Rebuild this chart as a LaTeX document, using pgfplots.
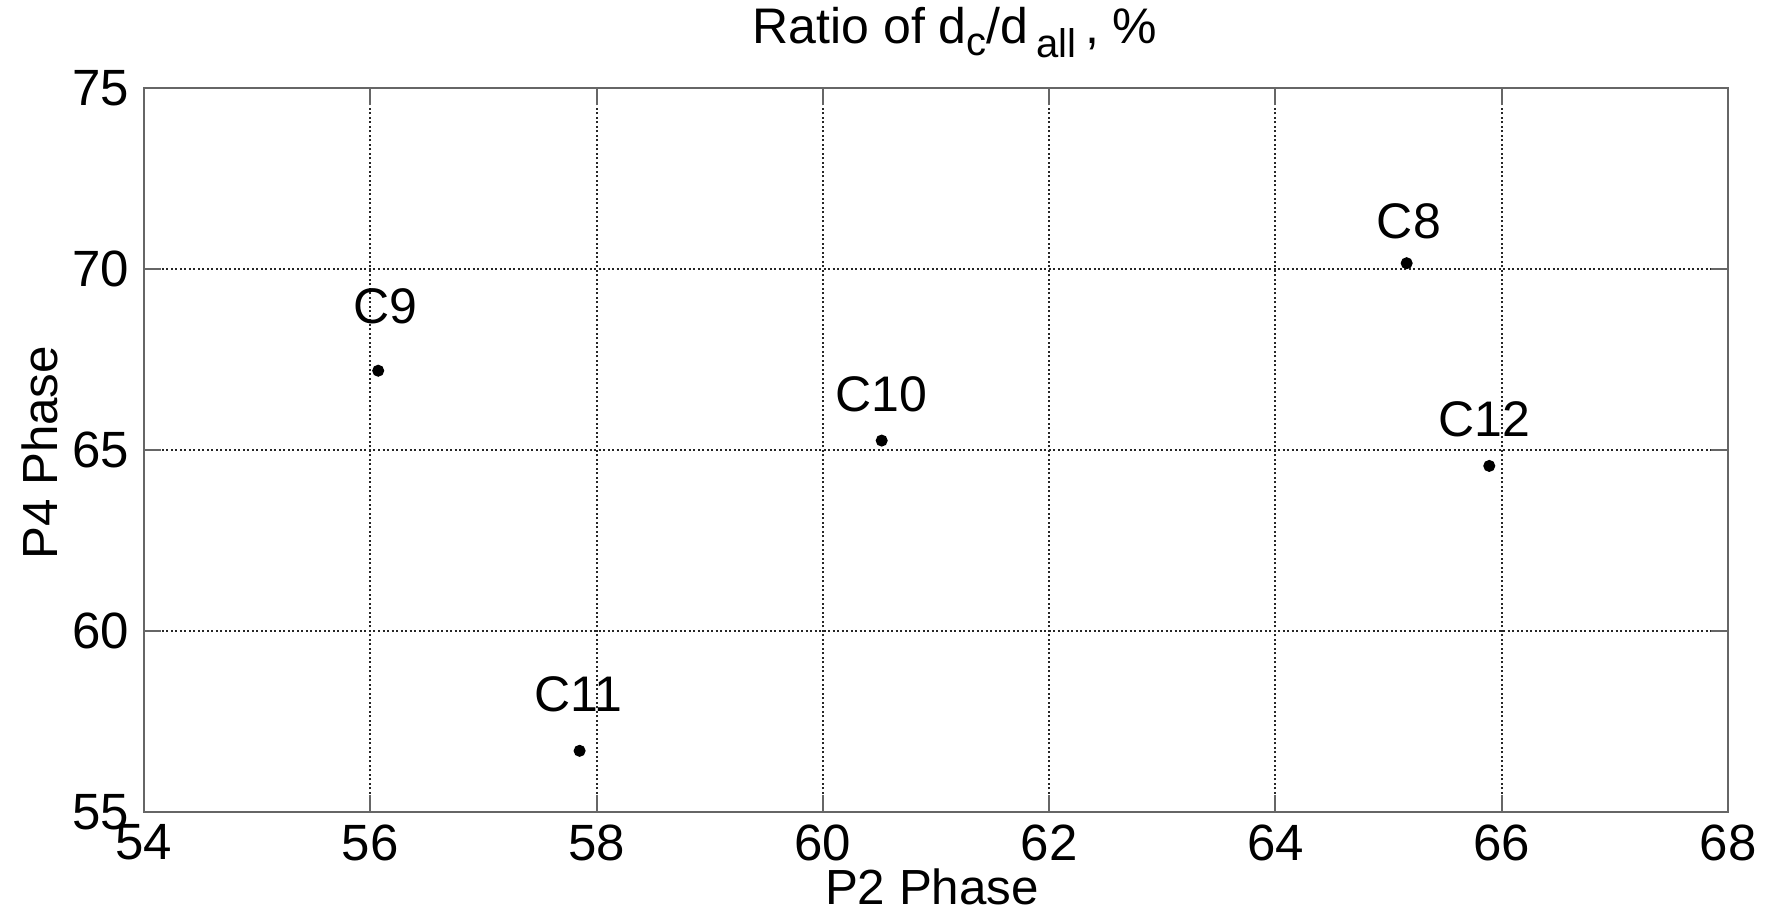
\documentclass[border=0pt]{standalone}
\usepackage{pgfplots}
\pgfplotsset{compat=1.18}
\usepackage{fontspec}
\setmainfont{Liberation Sans}
\begin{document}
\begin{tikzpicture}
\begin{axis}[
  scale only axis,
  clip=false,
  width=475.2pt, height=217.2pt,
  xmin=54, xmax=68, ymin=55, ymax=75,
  xtick={54,56,...,68}, ytick={55,60,...,75},
  /pgf/number format/assume math mode=true,
  tick label style={font=\fontsize{15.3}{18}\selectfont},
  tick align=inside,
  major tick length=5pt,
  axis line style={draw=black!60, line width=0.8pt},
  tick style={draw=black!60, line width=0.6pt},
  grid=major,
  grid style={black!85, line width=0.6pt, dash pattern=on 0.6pt off 0.75pt},
  xticklabel style={yshift=-0.3pt},
  yticklabel style={xshift=-1pt},
  xlabel={P2 Phase}, ylabel={P4 Phase},
  label style={font=\fontsize{14.8}{18}\selectfont},
  x label style={at={(axis description cs:0.4975,-0.1275)}, anchor=base},
  y label style={at={(axis description cs:-0.0543,0.496)}, anchor=base},
]
\addplot[only marks, mark=*, mark size=1.6pt, black] coordinates {
  (56.07,67.19) (65.16,70.16) (65.89,64.56) (57.85,56.69) (60.52,65.26)
};
\node[font=\fontsize{15}{18}\selectfont] at (axis cs:56.13,68.96) {C9};
\node[font=\fontsize{15}{18}\selectfont] at (axis cs:65.18,71.33) {C8};
\node[font=\fontsize{15}{18}\selectfont] at (axis cs:60.52,66.54) {C10};
\node[font=\fontsize{15}{18}\selectfont] at (axis cs:65.85,65.85) {C12};
\node[font=\fontsize{15}{18}\selectfont] at (axis cs:57.84,58.25) {C11};
\node[font=\fontsize{15}{18}\selectfont, anchor=base] at (axis description cs:0.512,1.0608)
  {Ratio of d\raisebox{-0.45ex}{\fontsize{12}{14}\selectfont c}/d\,\raisebox{-0.5ex}{\fontsize{12}{14}\selectfont all}\,, \%};
\end{axis}
\pgfresetboundingbox
\path[use as bounding box] (-43.2pt,-32.1pt) rectangle (486.9pt,243.6pt);
\end{tikzpicture}
\end{document}
